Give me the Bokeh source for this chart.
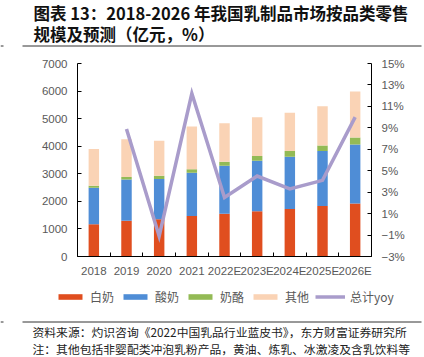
from bokeh.plotting import figure
from bokeh.models import (Range1d, LinearAxis, FixedTicker, CustomJSTickFormatter,
                          Legend, LegendItem, ColumnDataSource, Label, Arrow)
from bokeh.embed import file_html
from bokeh.resources import INLINE

# ---------------- data ----------------
years = ["2018", "2019", "2020", "2021", "2022E", "2023E", "2024E", "2025E", "2026E"]
white_milk = [1170, 1300, 1350, 1470, 1555, 1640, 1725, 1835, 1920]
yogurt = [1320, 1495, 1460, 1570, 1740, 1835, 1895, 1995, 2140]
cheese = [72, 85, 115, 120, 145, 170, 205, 195, 255]
other = [1338, 1374, 1272, 1555, 1397, 1410, 1386, 1421, 1666]
total_yoy = [float("nan"), 8.9, -1.1, 12.2, 2.5, 4.5, 3.3, 4.1, 10.0]
series_names = ["白奶", "酸奶", "奶酪", "其他"]
line_name = "总计yoy"
left_ticks = [0, 1000, 2000, 3000, 4000, 5000, 6000, 7000]
right_ticks = [-3, -1, 1, 3, 5, 7, 9, 11, 13, 15]
title_lines = ["图表 13：2018-2026 年我国乳制品市场按品类零售", "规模及预测（亿元，%）"]
footer_lines = ["资料来源：灼识咨询《2022中国乳品行业蓝皮书》，东方财富证券研究所",
                "注：其他包括非婴配类冲泡乳粉产品，黄油、炼乳、冰激凌及含乳饮料等"]

colors = ["#E04E1F", "#4F8DD6", "#93BA55", "#FAD3B5"]
line_color = "#A99CCB"
cjk = "Noto Sans CJK SC"
lat = "Liberation Sans"
W, H = 424, 357
# chart area inside the canvas (pixels from top-left)
PL, PR, PT, PB = 77, 371, 63, 256

n = len(years)
x_lo, x_hi = -0.5, n - 0.5
y_lo, y_hi = 0, 7000
r_lo, r_hi = -3, 15


def span(lo, hi, a, b, total):
    """range so that lo->pixel a and hi->pixel b on an axis of `total` pixels"""
    k = (hi - lo) / (b - a)
    return Range1d(lo - a * k, hi + (total - b) * k)


xr = span(x_lo, x_hi, PL, PR, W)
yr = span(y_lo, y_hi, H - PB, H - PT, H)
rr = span(r_lo, r_hi, H - PB, H - PT, H)

xs = list(range(n))
src = ColumnDataSource(dict(x=xs, white=white_milk, yogurt=yogurt, cheese=cheese,
                            other=other, yoy=total_yoy))

p = figure(width=W, height=H, x_range=xr, y_range=yr, output_backend="svg",
           toolbar_location=None, min_border=0, x_axis_location=None,
           y_axis_location=None)
p.extra_y_ranges = {"pct": rr}
p.grid.visible = False
p.outline_line_color = None
p.background_fill_color = "white"
p.border_fill_color = "white"

bars = p.vbar_stack(["white", "yogurt", "cheese", "other"], x="x", width=0.32,
                    color=colors, source=src, line_color=None)
ln = p.line(x="x", y="yoy", source=src, y_range_name="pct", line_color=line_color,
            line_width=3.5, line_join="miter")

# axes, fixed at the chart-area edges
xa = LinearAxis(fixed_location=y_lo, bounds=(x_lo, x_hi),
                ticker=FixedTicker(ticks=xs, minor_ticks=[i + 0.5 for i in range(-1, n)]),
                formatter=CustomJSTickFormatter(args=dict(labels=years),
                    code="const i = Math.round(tick); return (i >= 0 && i < labels.length) ? labels[i] : '';"))
xa.minor_tick_in = 4
xa.minor_tick_out = 0
xa.minor_tick_line_color = "#000000"
xa.major_label_standoff = 8
p.add_layout(xa, "below")

ya = LinearAxis(fixed_location=x_lo, bounds=(y_lo, y_hi), ticker=FixedTicker(ticks=left_ticks))
ya.minor_tick_line_color = None
ya.major_label_standoff = 10
p.add_layout(ya, "left")

ra = LinearAxis(y_range_name="pct", fixed_location=x_hi, bounds=(r_lo, r_hi),
                ticker=FixedTicker(ticks=right_ticks),
                formatter=CustomJSTickFormatter(code="return (tick < 0 ? '\u2212' : '') + Math.abs(tick) + '%';"))
ra.minor_tick_line_color = None
ra.major_label_standoff = 10
p.add_layout(ra, "right")

for ax in [xa, ya, ra]:
    ax.axis_line_color = "#000000"
    ax.major_tick_line_color = "#000000"
    ax.major_tick_in = 4
    ax.major_tick_out = 0
    ax.major_label_text_font = lat
    ax.major_label_text_font_size = "11.5px"
    ax.major_label_text_color = "#595959"
xa.major_tick_line_color = None

# legend
items = [LegendItem(label=nm, renderers=[r]) for nm, r in zip(series_names, bars)]
items.append(LegendItem(label=line_name, renderers=[ln]))
legend = Legend(items=items, orientation="horizontal", location=(55, H - 305),
                glyph_width=30, glyph_height=7, label_standoff=5, spacing=6,
                padding=0, margin=0, label_height=14,
                label_text_font=cjk, label_text_font_size="12px",
                label_text_color="#595959", border_line_color=None,
                background_fill_alpha=0)
p.add_layout(legend, "center")

# title
for t, y in zip(title_lines, [12, 33]):
    p.add_layout(Label(x=33, y=H - y, x_units="screen", y_units="screen", text=t,
                       text_font=cjk, text_font_style="bold", text_font_size="16.5px",
                       text_baseline="middle", text_align="left", text_color="#111111"))
# footer
for t, y in zip(footer_lines, [331, 348]):
    p.add_layout(Label(x=32, y=H - y, x_units="screen", y_units="screen", text=t,
                       text_font=cjk, text_font_size="11.8px",
                       text_baseline="middle", text_align="left", text_color="#222222"))
# separator rules
for y in [45.5, 321.5]:
    for x0, x1 in [(22, 421), (0, 3)]:
        p.add_layout(Arrow(end=None, x_start=x0, x_end=x1, y_start=H - y, y_end=H - y,
                           start_units="screen", end_units="screen",
                           line_color="#333333", line_width=1))

open("out.html", "w").write(file_html(p, INLINE))
